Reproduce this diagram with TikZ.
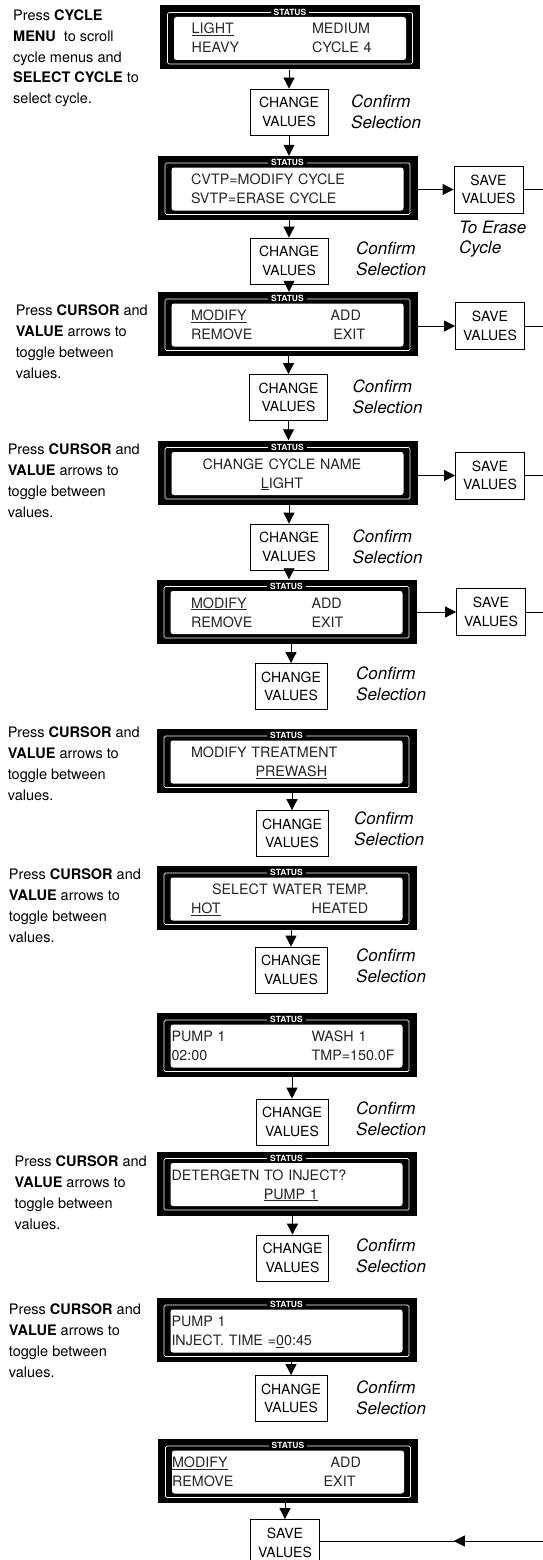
\documentclass[tikz,border=0pt]{standalone}
\usepackage{fontspec}
\setmainfont{TeX Gyre Heros}
\usepackage{tikz}
\usetikzlibrary{arrows.meta, decorations.markings}
\newcommand{\lcdfont}{\fontsize{14.3}{19}\selectfont}
\newcommand{\boxfont}{\fontsize{14}{18.4}\selectfont}
\newcommand{\notefont}{\fontsize{14.5}{20.8}\selectfont}
\newcommand{\hintfont}{\fontsize{17}{20.8}\selectfont\itshape}
\newcommand{\lcdrow}[4]{\hspace*{#1}\makebox[#2][l]{#3}#4}

\begin{document}
\begin{tikzpicture}[
    x=1pt, y=-1pt,
    lcd/.style={
        fill=black,
        inner sep=0pt,
        minimum width=260pt,
        text width=232pt,
        text height=28.5pt,
        text depth=35.5pt,
        align=left,
        font=\lcdfont,
        text=black!85,
        path picture={
            \draw[white, line width=0.7pt, rounded corners=1.5pt]
              ([shift={(7.5pt,-7pt)}]path picture bounding box.north west) rectangle
              ([shift={(-7.5pt,5.5pt)}]path picture bounding box.south east);
            \fill[white, rounded corners=2.5pt]
              ([shift={(14pt,-11.5pt)}]path picture bounding box.north west) rectangle
              ([shift={(-14pt,9.5pt)}]path picture bounding box.south east);
        }
    },
    status/.style={fill=black, text=white, inner xsep=3pt, inner ysep=0.8pt,
        font=\bfseries\fontsize{8.5}{9}\selectfont},
    chg/.style={draw=black, line width=0.8pt, fill=white, font=\boxfont,
        align=center, inner sep=0pt, minimum width=78pt, minimum height=46pt},
    chgs/.style={chg, minimum width=72pt},
    svbox/.style={chg, minimum width=69pt, minimum height=47pt},
    note/.style={anchor=north west, align=left, inner sep=0pt, font=\notefont},
    hint/.style={anchor=north west, align=left, inner sep=0pt, font=\hintfont},
    flow/.style={-{Triangle[length=11pt,width=11pt]}, line width=0.8pt},
    wire/.style={line width=0.8pt},
    retflow/.style={wire, postaction={decorate}, decoration={markings,
        mark=at position 0.4 with {\arrow{Triangle[length=11pt,width=11pt]}}}}
]
\useasboundingbox (0,0) rectangle (543,1560);

% displays
\node[lcd] (d1) at (290,37.5) {%
  \lcdrow{17.7pt}{120.3pt}{\underline{LIGHT}}{MEDIUM}\\
  \lcdrow{17.7pt}{120.3pt}{HEAVY}{CYCLE 4}};
\node[lcd] (d2) at (287.5,188) {%
  \hspace*{19.5pt}CVTP=MODIFY CYCLE\\
  \hspace*{19.5pt}SVTP=ERASE CYCLE};
\node[lcd] (d3) at (287.5,324) {%
  \lcdrow{19.5pt}{139.7pt}{\underline{MODIFY}}{ADD}\\
  \lcdrow{19.5pt}{142.4pt}{REMOVE}{EXIT}};
\node[lcd] (d4) at (287.5,472.5) {%
  \makebox[221pt][c]{CHANGE CYCLE NAME}\\
  \makebox[221pt][c]{\underline{L}IGHT}};
\node[lcd] (d5) at (286.5,611.5) {%
  \lcdrow{20.5pt}{120.6pt}{\underline{MODIFY}}{ADD}\\
  \lcdrow{20.5pt}{120.6pt}{REMOVE}{EXIT}};
\node[lcd] (d6) at (286.5,761) {%
  \hspace*{20.5pt}MODIFY TREATMENT\\
  \hspace*{85pt}\underline{PREWASH}};
\node[lcd] (d7) at (286.5,898) {%
  \makebox[239.8pt][c]{SELECT WATER TEMP.}\\
  \lcdrow{20.5pt}{120.6pt}{\underline{HOT}}{HEATED}};
\node[lcd] (d8) at (286.5,1045) {%
  \lcdrow{1pt}{140.1pt}{PUMP 1}{WASH 1}\\
  \lcdrow{1pt}{140.1pt}{02:00}{TMP=150.0F}};
\node[lcd] (d9) at (286.5,1183.5) {%
  \hspace*{1pt}DETERGETN TO INJECT?\\
  \hspace*{93.3pt}\underline{PUMP 1}};
\node[lcd] (d10) at (286.5,1330) {%
  \hspace*{1pt}PUMP 1\\
  \hspace*{1pt}INJECT. TIME =\underline{0}0:45};
\node[lcd] (d11) at (288,1471) {%
  \makebox[158.7pt][l]{\underline{MODIFY}}ADD\\
  \makebox[151.7pt][l]{REMOVE}EXIT};

\node[status] (st1) at ([yshift=-7pt]d1.north) {STATUS};
\node[status] (st2) at ([yshift=-7pt]d2.north) {STATUS};
\node[status] (st3) at ([yshift=-7pt]d3.north) {STATUS};
\node[status] (st4) at ([yshift=-7pt]d4.north) {STATUS};
\node[status] (st5) at ([yshift=-7pt]d5.north) {STATUS};
\node[status] (st6) at ([yshift=-7pt]d6.north) {STATUS};
\node[status] (st7) at ([yshift=-7pt]d7.north) {STATUS};
\node[status] (st8) at ([yshift=-7pt]d8.north) {STATUS};
\node[status] (st9) at ([yshift=-7pt]d9.north) {STATUS};
\node[status] (st10) at ([yshift=-7pt]d10.north) {STATUS};
\node[status] (st11) at ([yshift=-7pt]d11.north) {STATUS};

% change / save boxes
\node[chg] (c1) at (289,112) {CHANGE\\VALUES};
\node[chg] (c2) at (289,261) {CHANGE\\VALUES};
\node[chg] (c3) at (288.5,397.5) {CHANGE\\VALUES};
\node[chg] (c4) at (289,547) {CHANGE\\VALUES};
\node[chgs] (c5) at (291,686.5) {CHANGE\\VALUES};
\node[chgs] (c6) at (292,833.5) {CHANGE\\VALUES};
\node[chgs] (c7) at (291,970) {CHANGE\\VALUES};
\node[chgs] (c8) at (292,1122) {CHANGE\\VALUES};
\node[chgs] (c9) at (292.5,1258) {CHANGE\\VALUES};
\node[chgs] (c10) at (291,1398.5) {CHANGE\\VALUES};
\node[svbox] (sv) at (285,1543) {SAVE\\VALUES};

\node[svbox] (s2) at (488.5,189.5) {SAVE\\VALUES};
\node[svbox] (s3) at (490,326) {SAVE\\VALUES};
\node[svbox] (s4) at (490,475.5) {SAVE\\VALUES};
\node[svbox] (s5) at (491,612) {SAVE\\VALUES};

\coordinate (e2) at (543,189.5);
\coordinate (e3) at (543,326);
\coordinate (e4) at (543,475.5);
\coordinate (e5) at (543,612);
\coordinate (eb) at (543,1541);

% side texts
\node[note] (n1) at (13,9.5) {Press \textbf{CYCLE}\\
  \textbf{MENU}\ \ to scroll\\ cycle menus and\\
  \textbf{SELECT CYCLE} to\\ select cycle.};
\node[note] (n3) at (15.6,305) {Press \textbf{CURSOR} and\\
  \textbf{VALUE} arrows to\\ toggle between\\ values.};
\node[note] (n4) at (7.6,444) {Press \textbf{CURSOR} and\\
  \textbf{VALUE} arrows to\\ toggle between\\ values.};
\node[note] (n6) at (7.6,727) {Press \textbf{CURSOR} and\\
  \textbf{VALUE} arrows to\\ toggle between\\ values.};
\node[note] (n7) at (8.7,869) {Press \textbf{CURSOR} and\\
  \textbf{VALUE} arrows to\\ toggle between\\ values.};
\node[note] (n9) at (14.5,1156) {Press \textbf{CURSOR} and\\
  \textbf{VALUE} arrows to\\ toggle between\\ values.};
\node[note] (n10) at (8.7,1304) {Press \textbf{CURSOR} and\\
  \textbf{VALUE} arrows to\\ toggle between\\ values.};

\node[hint] (t1) at (351,95) {Confirm\\Selection};
\node[hint] (t2) at (356,242) {Confirm\\Selection};
\node[hint] (t3) at (352.5,380) {Confirm\\Selection};
\node[hint] (t4) at (352.5,530) {Confirm\\Selection};
\node[hint] (t5) at (356,667) {Confirm\\Selection};
\node[hint] (t6) at (354,812) {Confirm\\Selection};
\node[hint] (t7) at (356,949) {Confirm\\Selection};
\node[hint] (t8) at (356,1102) {Confirm\\Selection};
\node[hint] (t9) at (356,1239) {Confirm\\Selection};
\node[hint] (t10) at (356,1381) {Confirm\\Selection};
\node[hint, font=\fontsize{17}{19.5}\selectfont\itshape] (te) at (459,221) {To Erase\\Cycle};

% connectors
\draw[flow] (d1.south -| c1) -- (c1);
\draw[flow] (c1) -- (c1 |- d2.north);
\draw[flow] (d2.south -| c2) -- (c2);
\draw[flow] (c2) -- (c2 |- d3.north);
\draw[flow] (d3.south -| c3) -- (c3);
\draw[flow] (c3) -- (c3 |- d4.north);
\draw[flow] (d4.south -| c4) -- (c4);
\draw[flow] (c4) -- (c4 |- d5.north);
\draw[flow] (d5.south -| c5) -- (c5);
\draw[flow] (d6.south -| c6) -- (c6);
\draw[flow] (d7.south -| c7) -- (c7);
\draw[flow] (d8.south -| c8) -- (c8);
\draw[flow] (d9.south -| c9) -- (c9);
\draw[flow] (d10.south -| c10) -- (c10);
\draw[flow] (d11.south -| sv) -- (sv);

\draw[flow] (d2.east |- s2) -- (s2);
\draw[flow] (d3.east |- s3) -- (s3);
\draw[flow] (d4.east |- s4) -- (s4);
\draw[flow] (d5.east |- s5) -- (s5);
\draw[wire] (s2) -- (e2);
\draw[wire] (s3) -- (e3);
\draw[wire] (s4) -- (e4);
\draw[wire] (s5) -- (e5);
\draw[retflow] (eb) -- (eb -| sv.east);
\end{tikzpicture}
\end{document}
